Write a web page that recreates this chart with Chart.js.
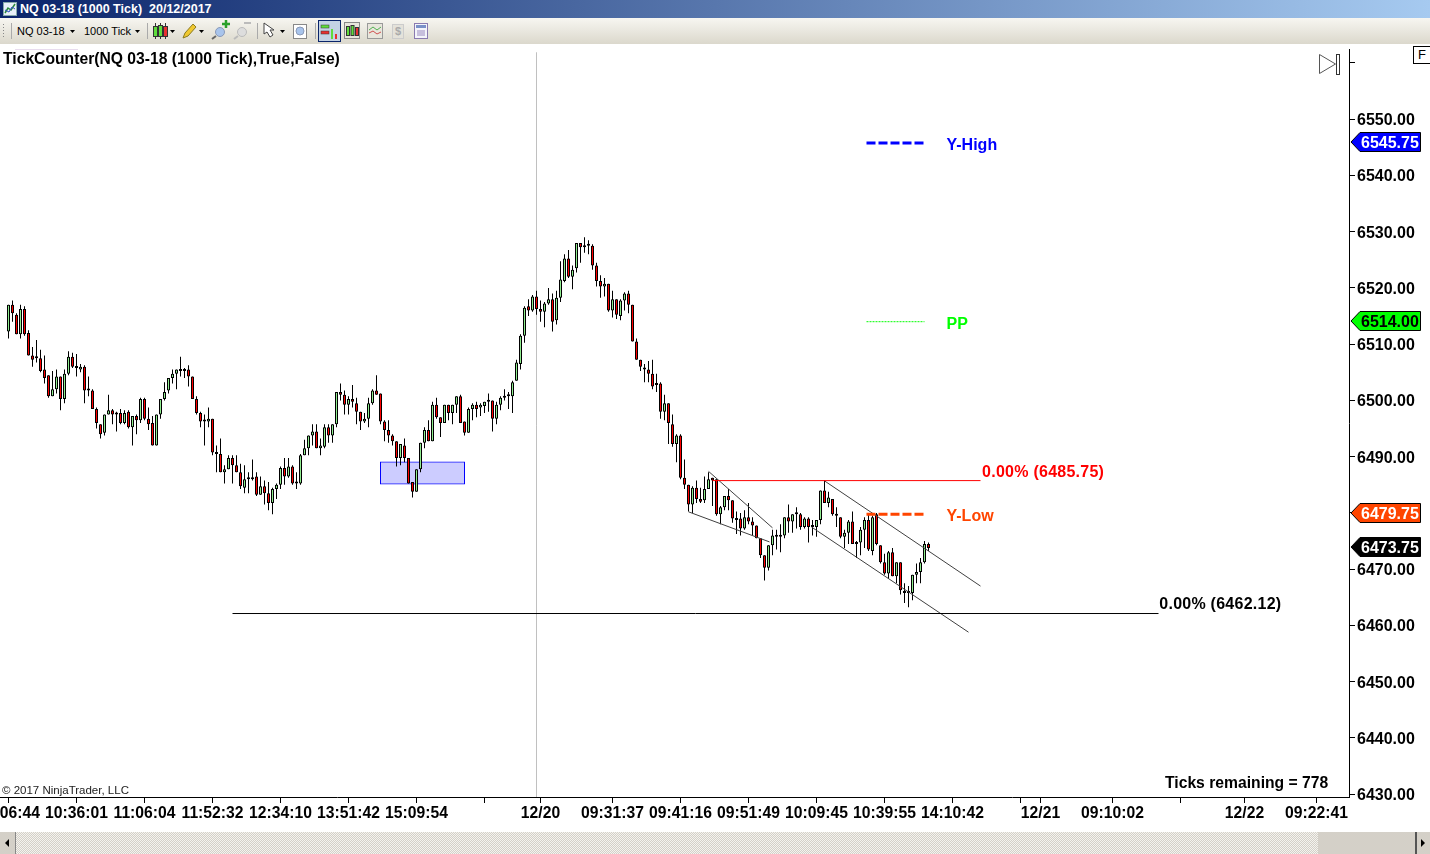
<!DOCTYPE html>
<html lang="en">

<head>
    <meta charset="UTF-8">
    <title>NQ 03-18 (1000 Tick)</title>
    <script src="https://cdn.jsdelivr.net/npm/chart.js"></script>
    <style>
        html, body { margin: 0; padding: 0; background: #fff; overflow: hidden; }
        body { width: 1430px; height: 854px; position: relative; font-family: "Liberation Sans", Arial, sans-serif; }
        canvas { position: absolute; left: 0; top: 0; }
        .abs { position: absolute; white-space: pre; }
        .titlebar { left: 0; top: 0; width: 1430px; height: 18px; background: linear-gradient(to right, #0a246a, #a6caf0); }
        .titletext { left: 20px; top: 2px; color: #fff; font: bold 12.500px "Liberation Sans"; }
        .toolbar { left: 0; top: 18px; width: 1430px; height: 26px; background: linear-gradient(to bottom, #f7f6f1, #dbd8cc); }
        .tbtext { top: 25px; font: 11px "Liberation Sans"; color: #000; }
        .bold16 { font: bold 15.700px "Liberation Sans"; color: #000; }
        .scroll { left: 0; top: 832px; width: 1430px; height: 22px;
            background: repeating-conic-gradient(#d4d0c8 0% 25%, #f4f3ef 0% 50%) 0 0 / 2px 2px; }
        .sbtn { top: 832px; height: 22px; background: #d4d0c8; }
    </style>
</head>

<body>
    <canvas id="grafico" width="1430" height="854"></canvas>

    <div class="abs titlebar"></div>
    <svg class="abs" style="left:3px;top:2px" width="14" height="14">
        <rect x="0.5" y="0.5" width="13" height="13" fill="#e8f0f8" stroke="#8aa"/>
        <polyline points="2,11 5,6 8,8 12,2" fill="none" stroke="#2a8a3a" stroke-width="1.5"/>
        <polyline points="2,8 6,10 9,5 12,7" fill="none" stroke="#3050c0"/>
    </svg>
    <div class="abs titletext">NQ 03-18 (1000 Tick)  20/12/2017</div>

    <div class="abs toolbar"></div>
    <div class="abs tbtext" style="left:17px">NQ 03-18</div>
    <div class="abs tbtext" style="left:84px">1000 Tick</div>
    <svg class="abs" style="left:0;top:18px" width="440" height="26">
        <!-- pegador e separadores -->
        <g fill="#888"><rect x="3" y="6" width="1" height="1"/><rect x="3" y="9" width="1" height="1"/><rect x="3" y="12" width="1" height="1"/><rect x="3" y="15" width="1" height="1"/><rect x="3" y="18" width="1" height="1"/></g>
        <g stroke="#aaa"><path d="M11.5 5v16M147.5 5v16M257.5 5v16M315.5 5v16"/></g>
        <!-- setinhas -->
        <g fill="#000">
            <path d="M70 12h5l-2.500 3z"/><path d="M135 12h5l-2.500 3z"/><path d="M170 12h5l-2.500 3z"/>
            <path d="M199 12h5l-2.500 3z"/><path d="M280 12h5l-2.500 3z"/>
        </g>
        <!-- candles -->
        <g stroke="#333">
            <path d="M155.500 5v16M160.500 5v16M165.500 5v16"/>
            <rect x="153.500" y="8.500" width="4" height="10" fill="#5fdc3c"/>
            <rect x="158.500" y="7.500" width="4" height="11" fill="#5fdc3c"/>
            <rect x="163.500" y="8.500" width="4" height="10" fill="#e83030"/>
        </g>
        <!-- lapis -->
        <path d="M183 20l2-5 8-9 3 3-8 9z" fill="#f0c830" stroke="#8a7a20"/>
        <!-- lupas -->
        <circle cx="220" cy="14" r="4.500" fill="#a8c4ec" stroke="#8a9ab8"/><path d="M216 18l-4 3" stroke="#666" stroke-width="2"/>
        <path d="M222 6h8M226 2v8" stroke="#2aa02a" stroke-width="2.500"/>
        <circle cx="242" cy="14" r="4.500" fill="#ddd" stroke="#bbb"/><path d="M238 18l-4 3" stroke="#bbb" stroke-width="2"/>
        <path d="M244 5h7" stroke="#bbb" stroke-width="2"/>
        <!-- cursor e zoom -->
        <path d="M264 5v11l3-2 3 5 3-2-3-5h4z" fill="#fff" stroke="#444"/>
        <rect x="293.500" y="6.500" width="13" height="14" fill="#fff" stroke="#888"/>
        <circle cx="300" cy="13" r="4" fill="#a8c4ec" stroke="#8a9ab8"/>
        <!-- botao selecionado -->
        <rect x="318.500" y="2.500" width="22" height="21" fill="#c4d3e4" stroke="#0a246a"/>
        <rect x="321" y="7" width="8" height="3" fill="#5fdc3c" stroke="#333" stroke-width="0.500"/>
        <rect x="321" y="13" width="8" height="3" fill="#e83030" stroke="#333" stroke-width="0.500"/>
        <rect x="331" y="11" width="2" height="10" fill="#5fdc3c"/><rect x="335" y="16" width="2" height="5" fill="#e83030"/>
        <!-- demais icones -->
        <rect x="344.500" y="4.500" width="15" height="16" fill="#e8e6dc" stroke="#888"/>
        <g stroke="#333"><rect x="346.500" y="8.500" width="3" height="9" fill="#5fdc3c"/><rect x="351" y="7.500" width="3" height="10" fill="#5fdc3c"/><rect x="355.500" y="9.500" width="3" height="8" fill="#e83030"/></g>
        <rect x="367.500" y="5.500" width="15" height="15" fill="#e8e6dc" stroke="#999"/>
        <polyline points="369,12 373,9 377,12 381,9" fill="none" stroke="#50b050"/><polyline points="369,15 373,13 377,16 381,14" fill="none" stroke="#d05050"/>
        <rect x="392.500" y="6.500" width="11" height="14" fill="#e4e2da" stroke="#ccc"/>
        <text x="395" y="17" font-size="11" font-family="Liberation Sans" fill="#aaa" font-weight="bold">$</text>
        <rect x="414.500" y="5.500" width="13" height="15" fill="#f4f4fa" stroke="#8a7ab0"/>
        <rect x="416" y="7" width="10" height="3" fill="#7a90c8"/><path d="M417 13h8M417 15h8M417 17h8" stroke="#9a8ac0"/>
    </svg>

    <div class="abs" style="left:15px;top:49px;width:63px;height:1px;background:#e8dcee"></div>
    <div class="abs bold16" style="left:3px;top:50px">TickCounter(NQ 03-18 (1000 Tick),True,False)</div>
    <div class="abs" style="left:2px;top:784px;font:11.500px 'Liberation Sans';color:#222">© 2017 NinjaTrader, LLC</div>
    <div class="abs bold16" style="left:1165px;top:774px">Ticks remaining = 778</div>

    <div class="abs" style="left:1413px;top:46px;width:16px;height:16px;border:1px solid #000;background:#fff;font:13px 'Liberation Sans';text-align:center;line-height:16px">F</div>
    <svg class="abs" style="left:1316px;top:52px" width="28" height="26">
        <path d="M3.500 2.500v19l16-9.500z" fill="#fff" stroke="#555"/>
        <rect x="20.500" y="2.500" width="3" height="20" fill="#fff" stroke="#333"/>
    </svg>

    <div class="abs scroll"></div>
    <div class="abs sbtn" style="left:0;width:15px;border-right:1px solid #888"></div>
    <div class="abs sbtn" style="left:1318px;width:97px;border-right:2px solid #555"></div>
    <div class="abs sbtn" style="left:1417px;width:13px"></div>
    <svg class="abs" style="left:0;top:832px" width="1430" height="22">
        <path d="M9 7v8l-4-4z" fill="#000"/><path d="M1421 7v8l4-4z" fill="#000"/>
    </svg>
</body>

</html>
<script>
    // candles (preco)
    const opens = [
        6512.25,6517,6515.25,6511.75,6516.25,6512,6508,6507.5,6507.5,6505.5,
        6504.5,6500.75,6502,6504.25,6500.25,6504.75,6507.75,6506,6505.5,6506,
        6501.75,6501.75,6498.5,6495.75,6494.25,6497.5,6498.25,6497.75,6497.75,6496,
        6498,6495.25,6497.25,6496.5,6500.25,6496.75,6496,6492,6497.5,6500.25,
        6501.75,6504,6504.75,6505.5,6505.25,6505.5,6504.25,6500.25,6497.75,6496.25,
        6496.25,6496.75,6490.75,6490.5,6487.25,6487.75,6489.75,6488.5,6487.25,6484.5,
        6486,6486.25,6486.5,6483.25,6484.75,6483.5,6481.75,6484.25,6485,6488,
        6486.5,6488.25,6485.25,6485.25,6490.25,6491.5,6493.75,6494.5,6491.5,6491.75,
        6495.25,6493.75,6495.75,6501.5,6501,6499.25,6500.25,6499.5,6498,6496.25,
        6496.75,6499.5,6501.75,6501.25,6496.25,6494.75,6493.75,6492.75,6489.75,6492,
        6489.75,6485.5,6483.75,6487.75,6492.5,6494.75,6492.75,6499.25,6497,6496,
        6499.25,6497.75,6499.25,6500.75,6496.25,6494.25,6498.5,6499.25,6498.75,6499,
        6499.75,6500,6496.75,6499.25,6500.75,6500.75,6500.75,6503.5,6506.5,6511.5,
        6516.75,6516,6518.5,6516.25,6515.75,6517.25,6518,6514.25,6518.25,6521.25,
        6525.25,6522,6523.5,6528,6527.5,6527.5,6527.5,6524,6521.25,6520.25,
        6520.75,6516,6518,6515,6517.75,6519,6517,6510.5,6507.25,6505.75,
        6505.5,6504.75,6502.75,6503,6498,6499.5,6495.75,6492.25,6493.75,6486.25,
        6485,6481.5,6484.5,6482.5,6482.25,6484.25,6486.25,6486,6479.75,6481,
        6483,6482.25,6478.75,6479,6477.25,6479.25,6478.5,6477.75,6475.5,6472.5,
        6470.25,6474.25,6476,6475.75,6476,6479.25,6478.5,6480,6479.75,6477.5,
        6479,6477.5,6477.5,6478.75,6484,6481.75,6482.5,6479.5,6479.25,6475.75,
        6476.5,6478.5,6474.5,6474.75,6477,6478.75,6473.25,6479.75,6474.25,6471.25,
        6469.25,6473,6468.75,6471.25,6465.75,6465.75,6465.75,6469,6469.5,6471.25,6474.5
    ];
    const closes = [
        6517,6515.5,6511.75,6516.25,6511.75,6508,6507.25,6507.5,6505.25,6504,
        6500.75,6502,6504.25,6500.25,6504.75,6507.75,6506,6505.75,6506,6501.75,
        6501.75,6498.5,6496,6494,6497.5,6498.25,6497.5,6497.5,6496,6497.75,
        6495.25,6497.25,6496.5,6500.25,6496.75,6495.75,6492,6497.5,6500.25,6501.5,
        6504,6504.75,6505.5,6505.25,6505.5,6504.25,6500.25,6497.75,6496.25,6496.25,
        6496.75,6490.75,6490.5,6487.25,6487.75,6489.75,6488.5,6487.25,6484.75,6486,
        6486,6486,6483.25,6484.75,6483.5,6481.75,6484.25,6485,6488,6486.5,
        6488.25,6485.25,6485.25,6490.25,6491.5,6493.75,6494.5,6491.5,6492,6495.25,
        6493.75,6495.75,6501.5,6501,6499.25,6500.25,6499.75,6498,6496.25,6496.75,
        6499.5,6501.75,6501,6496.25,6494.75,6493.75,6492.75,6489.75,6492.25,6489.75,
        6485.25,6483.75,6487.75,6492.5,6494.75,6492.75,6499.25,6497,6496,6499.25,
        6497.75,6499.25,6500.75,6496,6494.25,6498.5,6499.25,6498.5,6499.25,6499.75,
        6500,6496.75,6499.25,6500.5,6500.5,6500.75,6503.25,6506.75,6511.5,6516.5,
        6516,6518.5,6516.25,6515.75,6517.25,6518,6514,6518.25,6521.5,6525.25,
        6522,6523.25,6528,6527.25,6527.25,6527.5,6524,6521.25,6520.25,6520.75,
        6516,6518,6515.25,6517.75,6519,6517,6510.5,6507.25,6506,6505.5,
        6504.75,6502.5,6502.75,6498,6499.5,6496,6492.25,6493.75,6486.25,6485,
        6481.5,6484.5,6482.5,6482,6484.25,6486,6485.75,6479.75,6481,6483,
        6482.25,6479,6479,6477.25,6479.25,6478.5,6477.75,6475.5,6472.5,6470.25,
        6474.25,6476,6475.75,6476,6479.25,6478.5,6479.75,6479.75,6477.5,6479,
        6477.5,6477.5,6478.75,6484,6481.75,6482.75,6479.75,6479.75,6475.75,6476.5,
        6478.5,6474.5,6474.75,6477,6478.75,6473.5,6479.25,6474.5,6471.25,6469.25,
        6473,6468.75,6471.25,6466.25,6465.75,6465.75,6469,6469.5,6471.25,6474.5,6473.75
    ];
    const highs = [
        6517,6517.75,6515.5,6517,6516.75,6512.5,6509.5,6510.75,6509,6508,
        6504.5,6505.25,6505.5,6504.25,6505.5,6508.75,6508.5,6508.25,6506.5,6506.25,
        6504.25,6502,6498.75,6495.75,6497.5,6501,6498.5,6498,6498.5,6498.25,
        6498.25,6497.25,6497.5,6500.5,6500.5,6498.75,6497.25,6497.5,6500.25,6503.25,
        6504,6505.5,6505.5,6507.75,6505.75,6506.25,6504.25,6500.75,6498,6497.5,
        6498.75,6496.75,6492,6493.25,6488.5,6490.25,6490.25,6490.25,6488.75,6488.5,
        6487.25,6489.5,6487.25,6486.5,6485.75,6485.5,6484.5,6485.25,6488.25,6489.75,
        6489.75,6488.5,6487.25,6490.5,6493,6493.75,6495.75,6495.75,6493.25,6495.75,
        6495.75,6495.75,6501.5,6503,6501.75,6500.75,6502.75,6500.5,6498,6497.75,
        6500.5,6502,6504.5,6501.25,6496.5,6496.5,6494,6492.75,6492.25,6493.25,
        6489.75,6485.5,6487.75,6492.5,6495.25,6496.5,6499.75,6500.5,6497,6499.25,
        6499.25,6499.25,6500.75,6501,6496.25,6498.75,6499.5,6499.75,6499.5,6499.75,
        6501.25,6500,6499.75,6500.75,6502,6501.5,6503.5,6507.25,6511.75,6516.75,
        6518,6518.75,6519.5,6517.75,6517.5,6520,6519,6519.5,6524.75,6526,
        6526.75,6524,6528,6528,6529,6528.5,6527.75,6524.5,6522.25,6521.75,
        6520.75,6519.5,6518,6518,6519.25,6519.5,6517,6511,6507.25,6506.5,
        6507,6507.25,6504.75,6503.25,6501,6499.5,6497.5,6494,6494,6489.5,
        6485,6484.75,6485.75,6484.5,6486.5,6487.25,6486.25,6486,6481.25,6483,
        6484.25,6482.25,6480.25,6480,6480.5,6481.75,6479.25,6477.75,6475.5,6472.5,
        6474.25,6477,6477,6478,6479.25,6481.5,6479.75,6481,6480,6479.25,
        6479.25,6478.75,6478.75,6484,6485.75,6483.75,6482.5,6481,6479.25,6477,
        6478.75,6480.25,6475,6477.5,6479.25,6480,6479.5,6480,6474.25,6472.75,
        6473.25,6473.75,6471.25,6471.25,6467.5,6467,6469,6471,6472,6475,6474.75
    ];
    const lows = [
        6511,6514,6511.75,6511,6511.5,6508,6506,6506.75,6505,6503,
        6500.5,6500.75,6501.25,6498.25,6499.5,6504.5,6505.75,6504.25,6505,6499.5,
        6500.75,6498.5,6495,6493.25,6493.75,6497.5,6495.75,6494.5,6495.75,6495.75,
        6495,6492,6494,6496,6496.5,6494.75,6492,6492,6496.75,6500,
        6501.25,6503,6502,6504.25,6504,6502.5,6500.25,6497.5,6495.25,6492,
        6495.25,6490.25,6487.25,6487.25,6485.25,6487.75,6485.25,6487.25,6484.25,6483.5,
        6483.5,6485.75,6483,6483.25,6481.5,6480.5,6479.75,6482.5,6484.25,6485,
        6486.25,6485,6484.25,6485,6490.25,6490.25,6492,6491.5,6490.25,6491.5,
        6492.5,6492.5,6495.25,6500,6497.5,6497.5,6498.75,6495.75,6494.75,6496,
        6495.25,6499.25,6501,6495.75,6492.75,6492.5,6492,6488.25,6488.5,6489,
        6485.25,6482.75,6483.75,6487.25,6491.5,6492.75,6492.75,6496.75,6493.5,6496,
        6496.5,6495.75,6497.75,6496,6493.75,6494.25,6496.5,6497,6497.25,6497.75,
        6498,6494.5,6495.75,6498.25,6500,6498.5,6497.75,6503.5,6505.5,6510.25,
        6515,6515.75,6515.25,6514,6513,6517,6512.25,6513.5,6517.5,6521,
        6521.75,6519.75,6522.75,6524.5,6526.25,6526,6523.25,6520.25,6518.25,6518.5,
        6515.75,6514.75,6514.5,6514.25,6516,6515.5,6510.5,6507.25,6505.25,6503.25,
        6503.25,6502,6501.5,6496.75,6496.5,6492.25,6491.75,6489,6486,6484.25,
        6480.25,6480,6481.75,6481.75,6481.75,6484.25,6481.25,6479.5,6478,6480.5,
        6480.5,6478.25,6476.25,6476,6477,6478,6476,6475.5,6472,6468,
        6469.75,6472.5,6473.5,6473,6475.5,6476.5,6476.5,6477.25,6477,6477.25,
        6474.75,6476,6475.75,6478,6481.75,6481,6479.5,6477.5,6475.5,6473.75,
        6474.5,6474.5,6472,6472.5,6473.75,6473.25,6472.5,6474.25,6471,6469,
        6468.25,6468.75,6467.5,6465.5,6464,6463.25,6464.5,6467.5,6467.5,6471,6473.25
    ];

    // eixos
    const xTickBars = [0, 17, 34, 51, 68, 85, 102, 119, 133, 151, 168, 185, 202, 219, 236, 253, 258, 276, 293, 309, 327];
    const xTickLabels = ['10:06:44', '10:36:01', '11:06:04', '11:52:32', '12:34:10', '13:51:42', '15:09:54', '',
        '12/20', '09:31:37', '09:41:16', '09:51:49', '10:09:45', '10:39:55', '14:10:42', '', '12/21', '09:10:02', '', '12/22', '09:22:41'];
    const yTickValues = [6430, 6440, 6450, 6460, 6470, 6480, 6490, 6500, 6510, 6520, 6530, 6540, 6550, 6560];

    // niveis e linhas desenhadas no grafico: [barra, preco]
    const yHigh = 6545.75, pp = 6514, yLow = 6479.75, lastPrice = 6473.75;
    const fibRed = 6485.75, fibBlack = 6462.12;
    const legendBars = [214.5, 229];
    const fibRedBars = [176, 243];
    const fibBlackBars = [56, 287.5];
    const sessionBar = 132;
    const trendA = [[175, 6487.4], [191, 6477.35]];
    const trendB = [[170, 6480.2], [190.25, 6474.85]];
    const channelTop = [[204, 6485.7], [243, 6467]];
    const channelLow = [[200.75, 6477.5], [240, 6458.8]];
    const boxBars = [93, 114], boxPrices = [6485.05, 6489.15];

    const flags = [
        { value: yHigh, text: '6545.75', fill: '#0000ff', color: '#fff' },
        { value: pp, text: '6514.00', fill: '#00ff00', color: '#000' },
        { value: yLow, text: '6479.75', fill: '#ff4500', color: '#fff' },
        { value: lastPrice, text: '6473.75', fill: '#000000', color: '#fff' }
    ];
    const notes = [
        { text: 'Y-High', bar: 234.5, price: 6545.25, color: '#0000ff', spacing: '0px' },
        { text: 'PP', bar: 234.5, price: 6513.55, color: '#00ff00', spacing: '0px' },
        { text: 'Y-Low', bar: 234.5, price: 6479.35, color: '#ff4500', spacing: '0px' },
        { text: '0.00% (6485.75)', bar: 243.4, price: 6487.25, color: '#ff0000', spacing: '0.25px' },
        { text: '0.00% (6462.12)', bar: 287.7, price: 6463.65, color: '#000000', spacing: '0.25px' }
    ];

    function segmento(pontos) {
        return pontos.map(p => ({ x: p[0], y: p[1] }));
    }

    function horizontal(barras, preco) {
        return barras.map(b => ({ x: b, y: preco }));
    }

    function linha(dados, cor, largura, traco) {
        return {
            type: 'line', data: dados, borderColor: cor, borderWidth: largura, borderDash: traco || [],
            pointRadius: 0, tension: 0, fill: false, order: 0
        };
    }

    const barras = opens.map((o, i) => i);
    const corCandle = barras.map(i => closes[i] > opens[i] ? '#90ee90' : '#ff0000');

    const datasets = [
        // corpo do candle
        {
            data: barras.map(i => ({ x: i, y: [Math.min(opens[i], closes[i]), Math.max(opens[i], closes[i])] })),
            backgroundColor: corCandle, borderColor: '#000', borderWidth: 1, borderSkipped: false,
            barThickness: 3, grouped: false, minBarLength: 2, inflateAmount: 0, order: 1
        },
        // pavio
        {
            data: barras.map(i => ({ x: i, y: [lows[i], highs[i]] })),
            backgroundColor: '#000', borderWidth: 0, barThickness: 1, grouped: false, inflateAmount: 0, order: 2
        },
        // caixa azul
        {
            data: [{ x: (boxBars[0] + boxBars[1]) / 2, y: boxPrices }],
            backgroundColor: 'rgba(0,0,255,0.2)', borderColor: '#0000ff', borderWidth: 1, borderSkipped: false,
            barThickness: 85, grouped: false, inflateAmount: 0, order: 5
        },
        linha(horizontal(legendBars, yHigh), '#0000ff', 3, [9, 3]),
        linha(horizontal(legendBars, pp), '#00ff00', 1, [2, 1]),
        linha(horizontal(legendBars, yLow), '#ff4500', 3, [9, 3]),
        linha(horizontal(fibRedBars, fibRed), '#ff0000', 1),
        linha(horizontal(fibBlackBars, fibBlack), '#000000', 1),
        linha(segmento(trendA), '#404040', 1),
        linha(segmento(trendB), '#404040', 1),
        linha(segmento(channelTop), '#404040', 1),
        linha(segmento(channelLow), '#404040', 1),
        Object.assign(linha([{ x: sessionBar, y: 6429 }, { x: sessionBar, y: 6561.9 }], '#c0c0c0', 1), { order: 6 })
    ];

    // textos do grafico e etiquetas de preco no eixo
    const pluginTextos = {
        id: 'textos',
        afterDraw(chart) {
            const ctx = chart.ctx;
            const x = chart.scales.x;
            const y = chart.scales.y;
            ctx.save();
            ctx.font = 'bold 16px "Liberation Sans"';
            ctx.textBaseline = 'middle';
            ctx.textAlign = 'left';
            notes.forEach(n => {
                ctx.fillStyle = n.color;
                ctx.letterSpacing = n.spacing;
                ctx.fillText(n.text, x.getPixelForValue(n.bar), y.getPixelForValue(n.price));
            });
            ctx.letterSpacing = '0px';
            flags.forEach(f => {
                const py = Math.floor(y.getPixelForValue(f.value) - 0.5);
                ctx.beginPath();
                ctx.moveTo(1351, py);
                ctx.lineTo(1360, py - 9.5);
                ctx.lineTo(1420.5, py - 9.5);
                ctx.lineTo(1420.5, py + 9.5);
                ctx.lineTo(1360, py + 9.5);
                ctx.closePath();
                ctx.fillStyle = f.fill;
                ctx.fill();
                ctx.strokeStyle = '#000';
                ctx.lineWidth = 1;
                ctx.stroke();
                ctx.fillStyle = f.color;
                ctx.fillText(f.text, 1361, py + 2);
            });
            ctx.restore();
        }
    };

    const config = {
        type: 'bar',
        data: { datasets: datasets },
        plugins: [pluginTextos],
        options: {
            responsive: false,
            animation: false,
            layout: { autoPadding: false, padding: { top: 49 } },
            plugins: { legend: { display: false }, tooltip: { enabled: false } },
            scales: {
                x: {
                    type: 'linear',
                    position: 'bottom',
                    offset: false,
                    min: -2.125,
                    max: 335.125,
                    afterBuildTicks(scale) { scale.ticks = xTickBars.map(b => ({ value: b })); },
                    afterFit(scale) {
                        scale.height = 57;
                        scale.paddingLeft = 0;
                        scale.paddingRight = 0;
                    },
                    border: { display: true, color: '#000', width: 1 },
                    grid: { offset: false, drawOnChartArea: false, drawTicks: true, tickLength: 6, tickColor: '#000' },
                    ticks: {
                        autoSkip: false, maxRotation: 0, minRotation: 0, padding: 1, color: '#000',
                        font: { family: 'Liberation Sans', size: 15.7, weight: 'bold' },
                        callback: (v, i) => xTickLabels[i]
                    }
                },
                y: {
                    type: 'linear',
                    position: 'right',
                    min: 6429.5022,
                    max: 6562.48,
                    afterBuildTicks(scale) { scale.ticks = yTickValues.map(v => ({ value: v })); },
                    afterFit(scale) {
                        scale.width = 81;
                        scale.paddingTop = 0;
                        scale.paddingBottom = 0;
                    },
                    border: { display: true, color: '#000', width: 1 },
                    grid: { drawOnChartArea: false, drawTicks: true, tickLength: 6, tickColor: '#000' },
                    ticks: {
                        padding: 2, color: '#000',
                        // duas linhas so para descer o rotulo em relacao ao tick
                        font: { family: 'Liberation Sans', size: 16, weight: 'bold', lineHeight: '3px' },
                        callback: v => v === 6560 ? '' : ['', v.toFixed(2)]
                    }
                }
            }
        }
    };

    const grafico = new Chart(document.getElementById('grafico'), config);
</script>
